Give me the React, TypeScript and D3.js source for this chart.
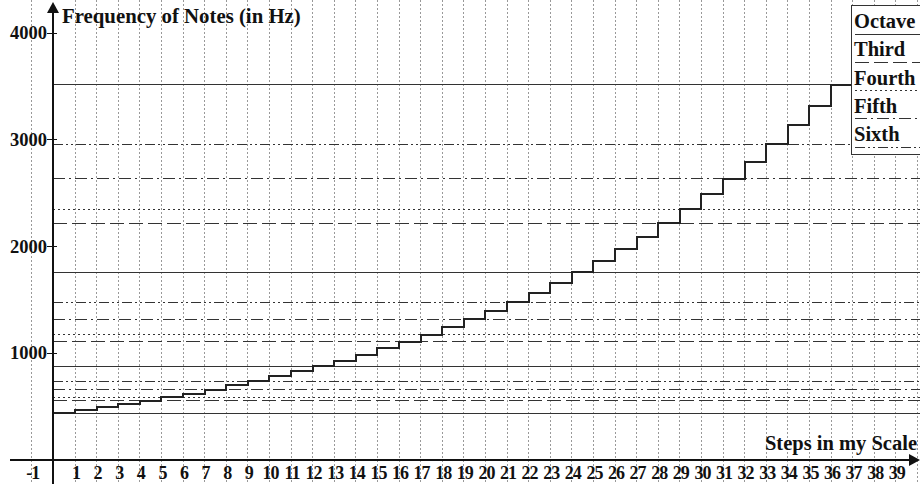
import React from "react";
import * as d3 from "d3";

const W = 920;
const H = 484;

// Equal-tempered note frequencies for steps 0..36 (Hz)
const noteFreqs = [
  440, 466.16, 493.88, 523.25, 554.37, 587.33, 622.25, 659.26, 698.46, 739.99,
  783.99, 830.61, 880, 932.33, 987.77, 1046.5, 1108.73, 1174.66, 1244.51,
  1318.51, 1396.91, 1479.98, 1567.98, 1661.22, 1760, 1864.66, 1975.53, 2093,
  2217.46, 2349.32, 2489.02, 2637.02, 2793.83, 2959.96, 3135.96, 3322.44, 3520,
];

const octaveLines = [440, 880, 1760, 3520];
const thirdLines = [554.37, 1108.73, 2217.46];
const fourthLines = [587.33, 1174.66, 2349.32];
const fifthLines = [659.26, 1318.51, 2637.02];
const sixthLines = [739.99, 1479.98, 2959.96];

const yTicks = [1000, 2000, 3000, 4000];
const xTickLabels = [-1, 1, 2, 3, 4, 5, 6, 7, 8, 9, 10, 11, 12, 13, 14, 15, 16, 17, 18, 19, 20, 21, 22, 23, 24, 25, 26, 27, 28, 29, 30, 31, 32, 33, 34, 35, 36, 37, 38, 39];
const gridSteps = [-1, 1, 2, 3, 4, 5, 6, 7, 8, 9, 10, 11, 12, 13, 14, 15, 16, 17, 18, 19, 20, 21, 22, 23, 24, 25, 26, 27, 28, 29, 30, 31, 32, 33, 34, 35, 36, 37, 38, 39, 40];

const legendItems = ["Octave", "Third", "Fourth", "Fifth", "Sixth"];
const legendDash = ["", "14,5", "2,3", "12,4,2,4", "10,3,2,3,2,3"];
const lineGroups = [octaveLines, thirdLines, fourthLines, fifthLines, sixthLines];

const FONT = "'Liberation Serif', 'Times New Roman', serif";

const crisp = (v: number) => Math.round(v - 0.5) + 0.5;

export default function App() {
  const x = d3.scaleLinear().domain([0, 39]).range([53.4, 53.4 + 39 * 21.6]);
  const y = d3.scaleLinear().domain([0, 4000]).range([460, 33.3]);

  const stepPts: [number, number][] = noteFreqs.map((f, i) => [i, f]);
  stepPts.push([noteFreqs.length, noteFreqs[noteFreqs.length - 1]]);
  const stepLine = d3
    .line<[number, number]>()
    .x((d) => Math.round(x(d[0])))
    .y((d) => Math.round(y(d[1])))
    .curve(d3.curveStepAfter);

  const x0 = Math.round(x(0));
  const y0 = Math.round(y(0));

  return (
    <svg
      width={W}
      height={H}
      style={{ position: "absolute", left: 0, top: 0, background: "#fff" }}
      fontFamily={FONT}
      fontWeight="bold"
    >
      <rect x={0} y={0} width={W} height={H} fill="#fff" />
      {/* vertical dotted grid */}
      {gridSteps.map((s) => (
        <line
          key={"g" + s}
          x1={crisp(x(s))}
          x2={crisp(x(s))}
          y1={0}
          y2={H}
          stroke="#999"
          strokeWidth={1}
          strokeDasharray="2,2"
        />
      ))}
      {/* horizontal interval lines */}
      {lineGroups.map((grp, gi) =>
        grp.map((f) => (
          <line
            key={"h" + gi + "-" + f}
            x1={x0}
            x2={W}
            y1={crisp(y(f))}
            y2={crisp(y(f))}
            stroke="#333"
            strokeWidth={1}
            strokeDasharray={legendDash[gi] || undefined}
          />
        ))
      )}
      {/* staircase */}
      <path d={stepLine(stepPts) || ""} fill="none" stroke="#222" strokeWidth={2} />

      {/* axes */}
      <line x1={10} x2={912} y1={y0} y2={y0} stroke="#111" strokeWidth={2} />
      <path d={`M920,${y0} L909,${y0 - 6} L909,${y0 + 6} Z`} fill="#111" />
      <line x1={x0} x2={x0} y1={H} y2={10} stroke="#111" strokeWidth={2} />
      <path d={`M${x0},2 L${x0 - 6},13 L${x0 + 6},13 Z`} fill="#111" />

      {/* y ticks */}
      {yTicks.map((t) => (
        <g key={"yt" + t}>
          <line x1={x0 - 6} x2={x0 + 4} y1={crisp(y(t))} y2={crisp(y(t))} stroke="#111" strokeWidth={1} />
          <text x={x0 - 6} y={y(t) + 6} textAnchor="end" fontSize={18.5} fill="#111">
            {t}
          </text>
        </g>
      ))}
      {/* x tick labels */}
      {xTickLabels.map((t) => (
        <text
          key={"xt" + t}
          x={x(t) + 1}
          y={479}
          textAnchor="middle"
          fontSize={18}
          fill="#111"
          letterSpacing={-1}
        >
          {t}
        </text>
      ))}

      {/* axis titles */}
      <text x={62} y={23} fontSize={20.8} fill="#111">
        Frequency of Notes (in Hz)
      </text>
      <text x={917} y={450} fontSize={20.5} fill="#111" textAnchor="end">
        Steps in my Scale
      </text>

      {/* legend */}
      <rect x={851.5} y={5.5} width={80} height={149} fill="#fff" stroke="#333" strokeWidth={1} />
      {legendItems.map((name, i) => (
        <g key={"lg" + name}>
          <text x={854} y={28 + i * 28.3} fontSize={20.5} fill="#111">
            {name}
          </text>
          <line
            x1={855}
            x2={W}
            y1={crisp(34 + i * 28.3)}
            y2={crisp(34 + i * 28.3)}
            stroke="#333"
            strokeWidth={1}
            strokeDasharray={legendDash[i] || undefined}
          />
        </g>
      ))}
    </svg>
  );
}
